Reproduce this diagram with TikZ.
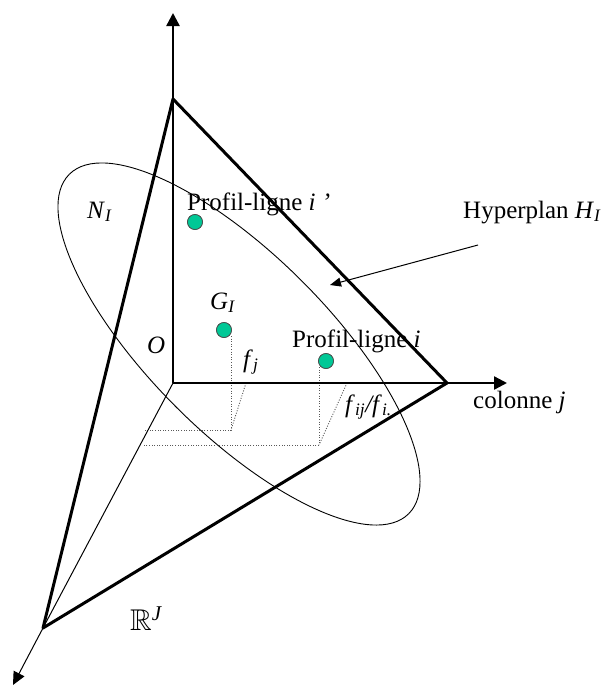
\documentclass[tikz,border=0pt]{standalone}
\usepackage{amssymb}
\usepackage{fontspec}
\setmainfont{Liberation Serif}
\usetikzlibrary{arrows.meta}
\definecolor{dotgreen}{RGB}{0,200,150}
\newcommand\sbs[1]{\textsubscript{\textit{#1}}}
\tikzset{
  thickedge/.style={line width=3pt, line join=round, line cap=round},
  axisline/.style={line width=2.4pt, -{Triangle[length=13pt,width=13pt]}},
  thinline/.style={line width=1pt},
  dotline/.style={line width=0.9pt, gray!70!black, dash pattern=on 1pt off 1.6pt},
  profdot/.style={circle, minimum size=15pt, inner sep=0pt, fill=dotgreen, draw=black!70, line width=0.7pt},
  lbl/.style={anchor=base west, inner sep=0pt, font=\fontsize{25}{28}\selectfont},
  pointer/.style={line width=1pt, -{Triangle[length=11pt,width=9pt]}}
}
\begin{document}
\begin{tikzpicture}[x=1pt,y=-1pt]
\useasboundingbox (0,0) rectangle (608,686);
% key points
\coordinate (O) at (173,383);
\coordinate (A) at (173,99);
\coordinate (B) at (447,383);
\coordinate (C) at (43,628);
\coordinate (Ytip) at (173,13);
\coordinate (Xtip) at (507,383);
\coordinate (Ztip) at (13,685);
% ellipse N_I
\draw[thinline, line width=0.9pt, rotate around={-45:(239,344)}] (239,344) ellipse [x radius=240pt, y radius=89pt];
% dotted projections
\node[profdot] (Pip) at (195,222) {};
\node[profdot] (G) at (224,330) {};
\node[profdot] (Pi) at (326,361) {};
\coordinate (g1) at (231,336);
\coordinate (g2) at (231,430);
\coordinate (g3) at (246,383);
\coordinate (g4) at (143,430);
\coordinate (p1) at (319,367);
\coordinate (p2) at (319,445);
\coordinate (p3) at (347,383);
\coordinate (p4) at (143,445);
\draw[dotline] (g1) -- (g2) -- (g4);
\draw[dotline] (g3) -- (g2);
\draw[dotline] (p1) -- (p2) -- (p4);
\draw[dotline] (p3) -- (p2);
% redraw dots on top
\node[profdot] at (Pip) {};
\node[profdot] at (G) {};
\node[profdot] at (Pi) {};
% axes
\draw[axisline] (O) -- (Ytip);
\draw[axisline] (O) -- (Xtip);
\draw[thinline] (O) -- (C);
\draw[thinline, -{Triangle[length=13pt,width=12pt]}] (C) -- (Ztip);
% triangle
\draw[thickedge] (A) -- (B) -- (C) -- cycle;
% pointer arrow
\coordinate (hs) at (478,245);
\coordinate (he) at (330,285);
\draw[pointer] (hs) -- (he);
% labels
\node[lbl] (NI) at (87,218) {\textit{N}\sbs{I}};
\node[lbl] (Lip) at (187,210) {Profil-ligne \textit{i ’}};
\node[lbl] (GI) at (210,309) {\textit{G}\sbs{I}};
\node[lbl] (LO) at (147,353) {\textit{O}};
\node[lbl] (fj) at (243,367) {\textit{f}\sbs{j}};
\node[lbl] (Li) at (292,347) {Profil-ligne \textit{i}};
\node[lbl] (fij) at (345,412) {\textit{f}\sbs{ij}\textit{/f}\sbs{i.}};
\node[lbl] (col) at (473,408) {colonne \textit{j}};
\node[lbl] (hyp) at (463,218) {Hyperplan \textit{H}\sbs{I}};
\node[lbl, font=\fontsize{30}{32}\selectfont] (RJ) at (130,630) {$\mathbb{R}$\textsuperscript{\textit{J}}};
\end{tikzpicture}
\end{document}
